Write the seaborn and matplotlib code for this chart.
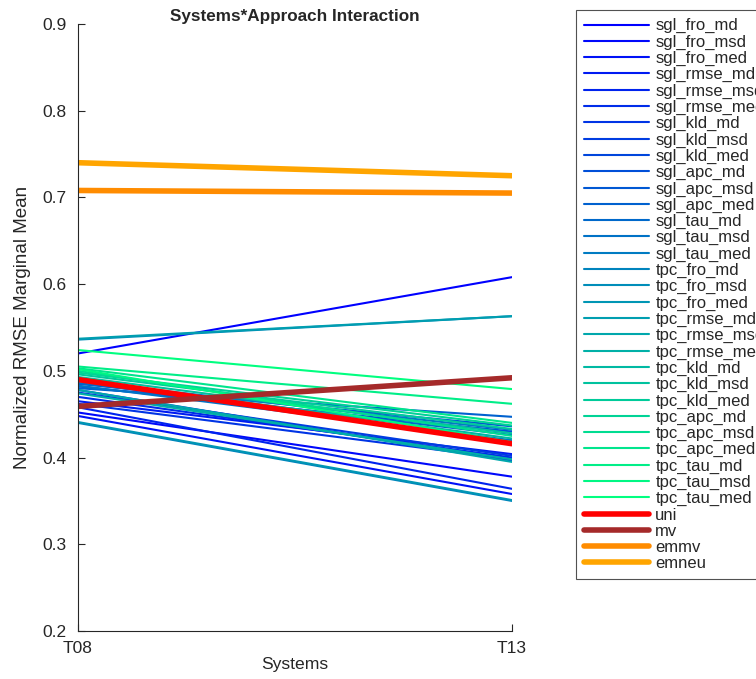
import numpy as np
import pandas as pd
import seaborn as sns
import matplotlib.pyplot as plt
from matplotlib import colormaps

sns.set_style("ticks")
plt.rcParams['font.family'] = ['Liberation Sans', 'DejaVu Sans']

# %% Data
systems = ["T08", "T13"]

approaches = [
    "sgl_fro_md", "sgl_fro_msd", "sgl_fro_med",
    "sgl_rmse_md", "sgl_rmse_msd", "sgl_rmse_med",
    "sgl_kld_md", "sgl_kld_msd", "sgl_kld_med",
    "sgl_apc_md", "sgl_apc_msd", "sgl_apc_med",
    "sgl_tau_md", "sgl_tau_msd", "sgl_tau_med",
    "tpc_fro_md", "tpc_fro_msd", "tpc_fro_med",
    "tpc_rmse_md", "tpc_rmse_msd", "tpc_rmse_med",
    "tpc_kld_md", "tpc_kld_msd", "tpc_kld_med",
    "tpc_apc_md", "tpc_apc_msd", "tpc_apc_med",
    "tpc_tau_md", "tpc_tau_msd", "tpc_tau_med",
]
t08 = [0.520, 0.452, 0.448, 0.465, 0.458, 0.470, 0.462, 0.475, 0.478,
       0.482, 0.485, 0.480, 0.486, 0.483, 0.488,
       0.440, 0.536, 0.441, 0.537, 0.478, 0.474,
       0.490, 0.493, 0.496, 0.498, 0.500, 0.503, 0.505, 0.502, 0.524]
t13 = [0.608, 0.378, 0.358, 0.404, 0.364, 0.400, 0.398, 0.402, 0.396,
       0.430, 0.436, 0.447, 0.426, 0.420, 0.432,
       0.350, 0.563, 0.351, 0.563, 0.395, 0.398,
       0.422, 0.428, 0.433, 0.437, 0.425, 0.440, 0.462, 0.418, 0.479]

baselines = ["uni", "mv", "emmv", "emneu"]
base_t08 = [0.490, 0.459, 0.708, 0.740]
base_t13 = [0.416, 0.492, 0.705, 0.725]
base_colors = ["#ff0000", "#a52a2a", "#ff8c00", "#ffa500"]

# %% Plot
fig = plt.figure(figsize=(7.56, 6.79), dpi=100)
ax = fig.add_axes([0.103, 0.0707, 0.574, 0.894])

cols = colormaps["winter"](np.linspace(0, 1, len(approaches)))
for name, a, b, c in zip(approaches, t08, t13, cols):
    sns.lineplot(x=systems, y=[a, b], color=c, lw=1.5, label=name, ax=ax)
for name, a, b, c in zip(baselines, base_t08, base_t13, base_colors):
    sns.lineplot(x=systems, y=[a, b], color=c, lw=4, label=name, ax=ax)

ax.set_xlim(0, 1)
ax.set_ylim(0.2, 0.9)
ax.set_yticks(np.arange(0.2, 0.91, 0.1))
ax.set_yticklabels([f"{v:.1f}" for v in np.arange(0.2, 0.91, 0.1)])
ax.tick_params(direction="in", labelsize=12.5, colors="#262626", length=5)
ax.tick_params(axis="y", pad=8)
ax.tick_params(axis="x", pad=7)
for s in ["left", "bottom"]:
    ax.spines[s].set_color("#262626")
ax.spines["top"].set_visible(False)
ax.spines["right"].set_visible(False)

ax.set_title("Systems*Approach Interaction", fontsize=12.3, fontweight="bold", pad=1)
ax.set_xlabel("Systems", fontsize=12.6, labelpad=1, color="#262626")
ax.set_ylabel("Normalized RMSE Marginal Mean", fontsize=13.5, labelpad=8, color="#262626")

leg = ax.legend(loc="upper left", bbox_to_anchor=(576 / 756, 1 - 10 / 679),
                bbox_transform=fig.transFigure, fontsize=12, frameon=True,
                fancybox=False, edgecolor="#262626", handlelength=3.9,
                labelspacing=0.07, borderpad=0.5, handletextpad=0.36,
                borderaxespad=0)
leg.get_frame().set_linewidth(0.8)

fig.savefig("out.png", dpi=100)
